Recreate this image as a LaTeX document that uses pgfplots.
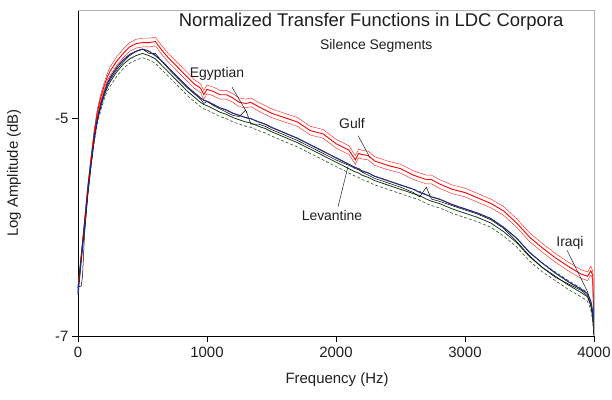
\documentclass[border=0pt]{standalone}
\usepackage{pgfplots}
\usepackage{pgfplotstable}
\pgfplotsset{compat=1.18}
\usepackage{fontspec}
\setmainfont{Liberation Sans}
\definecolor{navy}{RGB}{40,40,130}
\definecolor{dgreen}{RGB}{20,60,20}
\definecolor{mgreen}{RGB}{40,80,40}
\definecolor{txt}{RGB}{30,30,30}
\pgfplotstableread{
f blue black rmid rup rlo gmid gup glo
0 -6.62 -6.55 -6.56 -6.54 -6.58 -6.58 -6.56 -6.60
25 -6.30 -6.54 -6.26 -6.24 -6.28 -6.29 -6.27 -6.31
35 -6.18 -6.45 -6.14 -6.12 -6.16 -6.17 -6.15 -6.19
50 -6.00 -6.08 -5.96 -5.94 -5.98 -6.00 -5.98 -6.02
75 -5.68 -5.72 -5.64 -5.62 -5.66 -5.69 -5.67 -5.71
100 -5.42 -5.44 -5.38 -5.36 -5.40 -5.43 -5.41 -5.45
125 -5.18 -5.19 -5.13 -5.11 -5.15 -5.20 -5.18 -5.22
150 -5.00 -5.01 -4.94 -4.91 -4.97 -5.02 -4.99 -5.05
175 -4.87 -4.88 -4.81 -4.78 -4.84 -4.90 -4.87 -4.93
200 -4.77 -4.78 -4.71 -4.68 -4.74 -4.80 -4.77 -4.83
225 -4.68 -4.70 -4.62 -4.59 -4.65 -4.72 -4.69 -4.75
250 -4.62 -4.64 -4.56 -4.52 -4.60 -4.66 -4.63 -4.70
300 -4.53 -4.55 -4.47 -4.43 -4.51 -4.57 -4.53 -4.61
350 -4.46 -4.48 -4.40 -4.36 -4.44 -4.50 -4.46 -4.54
400 -4.41 -4.42 -4.34 -4.30 -4.38 -4.45 -4.41 -4.49
450 -4.38 -4.38 -4.31 -4.27 -4.35 -4.42 -4.38 -4.46
500 -4.36 -4.36 -4.30 -4.26 -4.34 -4.40 -4.36 -4.44
550 -4.38 -4.40 -4.30 -4.26 -4.34 -4.42 -4.38 -4.46
600 -4.42 -4.40 -4.29 -4.25 -4.33 -4.45 -4.41 -4.49
650 -4.47 -4.47 -4.37 -4.33 -4.41 -4.51 -4.47 -4.55
700 -4.53 -4.54 -4.44 -4.40 -4.48 -4.57 -4.53 -4.61
750 -4.59 -4.60 -4.50 -4.46 -4.54 -4.63 -4.59 -4.67
800 -4.65 -4.66 -4.56 -4.52 -4.60 -4.69 -4.65 -4.73
850 -4.71 -4.72 -4.62 -4.58 -4.66 -4.75 -4.71 -4.79
900 -4.76 -4.77 -4.68 -4.64 -4.72 -4.80 -4.76 -4.84
950 -4.81 -4.82 -4.72 -4.68 -4.76 -4.85 -4.81 -4.89
975 -4.83 -4.86 -4.78 -4.74 -4.82 -4.87 -4.83 -4.91
1000 -4.84 -4.84 -4.73 -4.69 -4.77 -4.88 -4.84 -4.92
1050 -4.87 -4.88 -4.75 -4.71 -4.79 -4.91 -4.87 -4.95
1100 -4.90 -4.91 -4.78 -4.74 -4.82 -4.94 -4.90 -4.98
1150 -4.92 -4.94 -4.78 -4.74 -4.82 -4.96 -4.92 -5.00
1200 -4.95 -4.97 -4.81 -4.77 -4.85 -4.99 -4.95 -5.03
1250 -4.97 -4.98 -4.85 -4.81 -4.89 -5.01 -4.97 -5.05
1300 -4.99 -4.92 -4.86 -4.82 -4.90 -5.03 -4.99 -5.07
1340 -5.00 -5.05 -4.85 -4.81 -4.89 -5.04 -5.00 -5.08
1400 -5.03 -5.05 -4.89 -4.85 -4.93 -5.07 -5.03 -5.11
1450 -5.05 -5.07 -4.92 -4.88 -4.96 -5.09 -5.05 -5.13
1500 -5.08 -5.10 -4.95 -4.91 -4.99 -5.12 -5.08 -5.16
1600 -5.13 -5.15 -4.99 -4.95 -5.03 -5.17 -5.13 -5.21
1700 -5.18 -5.20 -5.03 -4.99 -5.07 -5.22 -5.18 -5.26
1800 -5.24 -5.26 -5.11 -5.07 -5.15 -5.28 -5.24 -5.32
1900 -5.30 -5.32 -5.14 -5.10 -5.18 -5.34 -5.30 -5.38
2000 -5.36 -5.38 -5.23 -5.19 -5.27 -5.40 -5.36 -5.44
2100 -5.42 -5.43 -5.29 -5.25 -5.33 -5.46 -5.42 -5.50
2150 -5.45 -5.46 -5.38 -5.34 -5.42 -5.49 -5.45 -5.53
2175 -5.46 -5.47 -5.32 -5.28 -5.36 -5.50 -5.46 -5.54
2200 -5.48 -5.49 -5.33 -5.29 -5.37 -5.52 -5.48 -5.56
2250 -5.50 -5.52 -5.34 -5.30 -5.38 -5.54 -5.50 -5.58
2300 -5.53 -5.55 -5.39 -5.35 -5.43 -5.57 -5.53 -5.61
2400 -5.57 -5.59 -5.43 -5.39 -5.47 -5.61 -5.57 -5.65
2500 -5.61 -5.63 -5.46 -5.42 -5.50 -5.65 -5.61 -5.69
2600 -5.65 -5.68 -5.52 -5.48 -5.56 -5.69 -5.65 -5.73
2650 -5.68 -5.72 -5.54 -5.50 -5.58 -5.71 -5.67 -5.75
2700 -5.70 -5.63 -5.56 -5.52 -5.60 -5.74 -5.70 -5.78
2740 -5.72 -5.74 -5.56 -5.52 -5.60 -5.76 -5.72 -5.80
2800 -5.74 -5.76 -5.60 -5.56 -5.64 -5.78 -5.74 -5.82
2900 -5.79 -5.80 -5.65 -5.61 -5.69 -5.83 -5.79 -5.87
3000 -5.83 -5.84 -5.68 -5.64 -5.72 -5.87 -5.83 -5.91
3100 -5.87 -5.88 -5.73 -5.69 -5.77 -5.91 -5.87 -5.95
3200 -5.92 -5.93 -5.78 -5.74 -5.82 -5.96 -5.92 -6.00
3300 -6.00 -6.01 -5.85 -5.81 -5.89 -6.04 -6.00 -6.08
3400 -6.10 -6.13 -5.96 -5.92 -6.00 -6.14 -6.10 -6.18
3500 -6.23 -6.26 -6.09 -6.05 -6.13 -6.27 -6.23 -6.31
3600 -6.33 -6.37 -6.19 -6.15 -6.23 -6.37 -6.33 -6.41
3700 -6.42 -6.46 -6.28 -6.24 -6.32 -6.45 -6.41 -6.49
3800 -6.50 -6.52 -6.36 -6.32 -6.40 -6.53 -6.49 -6.57
3900 -6.57 -6.58 -6.43 -6.39 -6.47 -6.60 -6.56 -6.64
3950 -6.61 -6.63 -6.45 -6.41 -6.49 -6.64 -6.60 -6.68
3975 -6.68 -6.71 -6.40 -6.36 -6.44 -6.72 -6.68 -6.76
3990 -6.78 -6.82 -6.44 -6.40 -6.48 -6.82 -6.78 -6.86
4000 -6.98 -6.99 -6.98 -6.96 -7.00 -6.99 -6.97 -7.00
}\data
\begin{document}
\begin{tikzpicture}
\begin{axis}[
  at={(0,0)}, anchor=south west,
  scale only axis, width=516bp, height=326bp,
  xmin=0, xmax=4000, ymin=-7, ymax=-4,
  axis x line*=bottom, axis y line*=left,
  axis line style={-, black, line width=0.8pt},
  xtick={0,1000,2000,3000,4000},
  xticklabels={0,1000,2000,3000,4000},
  ytick={-7,-5}, yticklabels={-7,-5},
  tick align=outside, major tick length=6bp,
  tick style={black, line width=0.8pt},
  ticklabel style={font=\fontsize{15}{18}\selectfont, text=txt},
  xticklabel style={yshift=-2bp},
  xlabel={Frequency (Hz)}, ylabel={Log Amplitude (dB)},
  label style={font=\fontsize{15}{18}\selectfont, text=txt},
  xlabel style={at={(axis description cs:0.502,-0.135)}, anchor=center},
  ylabel style={at={(axis description cs:-0.124,0.5)}, anchor=center},
  clip=false,
]
\addplot[red!85, line width=0.45pt] table[x=f, y=rup] {\data};
\addplot[red!85, line width=0.45pt] table[x=f, y=rlo] {\data};
\addplot[red, line width=0.9pt] table[x=f, y=rmid] {\data};
\addplot[mgreen, line width=0.6pt, dash pattern=on 3pt off 2pt] table[x=f, y=gup] {\data};
\addplot[mgreen, line width=0.6pt, dash pattern=on 3pt off 2pt] table[x=f, y=glo] {\data};
\addplot[dgreen, line width=0.8pt] table[x=f, y=gmid] {\data};
\addplot[black, line width=0.5pt] table[x=f, y=black] {\data};
\addplot[navy, line width=1.1pt] table[x=f, y=blue] {\data};
\draw[gray!60, line width=0.8pt] (rel axis cs:0,1) -- (rel axis cs:1,1) -- (rel axis cs:1,0);
\node[text=txt, font=\fontsize{18.5}{22}\selectfont] at (rel axis cs:0.568,0.963) {Normalized Transfer Functions in LDC Corpora};
\node[text=txt, font=\fontsize{14}{17}\selectfont] at (rel axis cs:0.578,0.89) {Silence Segments};
\node[text=txt, font=\fontsize{14}{17}\selectfont] at (axis cs:1078,-4.587) {Egyptian};
\draw[txt, line width=0.5pt] (axis cs:1194,-4.71) -- (axis cs:1310,-4.945);
\node[text=txt, font=\fontsize{14}{17}\selectfont] at (axis cs:2124,-5.046) {Gulf};
\draw[txt, line width=0.5pt] (axis cs:2171,-5.156) -- (axis cs:2264,-5.36);
\node[text=txt, font=\fontsize{14}{17}\selectfont] at (axis cs:1969,-5.89) {Levantine};
\draw[txt, line width=0.5pt] (axis cs:2016,-5.81) -- (axis cs:2093,-5.44);
\node[text=txt, font=\fontsize{14}{17}\selectfont] at (axis cs:3814,-6.14) {Iraqi};
\draw[txt, line width=0.5pt] (axis cs:3791,-6.21) -- (axis cs:3953,-6.60);
\end{axis}
\pgfresetboundingbox
\path (-78bp,-64bp) rectangle (534bp,336bp);
\end{tikzpicture}
\end{document}
